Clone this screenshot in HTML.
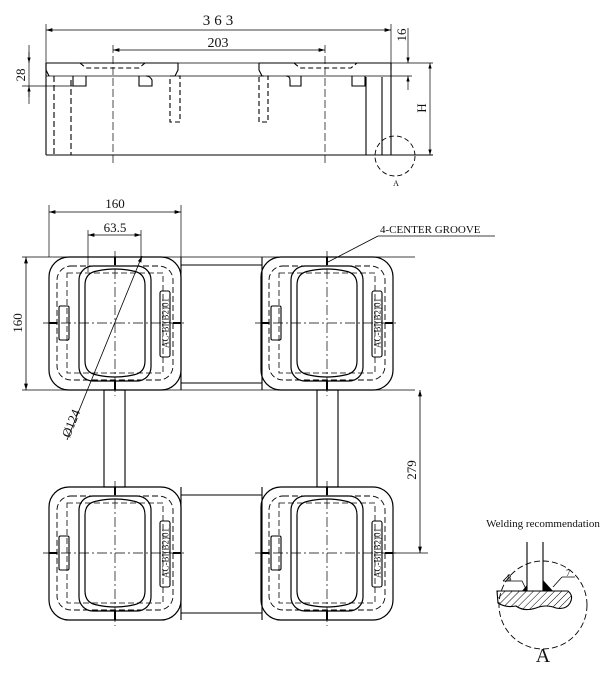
<!DOCTYPE html>
<html><head><meta charset="utf-8"><style>
html,body{margin:0;padding:0;background:#fff;}
svg{display:block;}
text{font-family:"Liberation Serif",serif;fill:#111;}
</style></head><body>
<svg width="614" height="678" viewBox="0 0 614 678" xmlns="http://www.w3.org/2000/svg">
<defs>
<marker id="ar" viewBox="0 0 10 6" refX="10" refY="3" markerWidth="8" markerHeight="5" orient="auto-start-reverse"><path d="M0,0 L10,3 L0,6 z" fill="#000"/></marker>
<pattern id="hatch" width="5" height="5" patternUnits="userSpaceOnUse" patternTransform="rotate(45)"><line x1="0" y1="0" x2="0" y2="5" stroke="#000" stroke-width="1"/></pattern>
<g id="mod">
  <rect x="-66" y="-66" width="132" height="133" rx="20" fill="none" stroke="#000" stroke-width="1.2"/>
  <rect x="-58" y="-57" width="116" height="114" rx="14" fill="none" stroke="#000" stroke-width="0.9" stroke-dasharray="6,3"/>
  <rect x="-48" y="-50" width="96" height="100" fill="none" stroke="#000" stroke-width="0.8" stroke-dasharray="6,3"/>
  <rect x="-36" y="-57" width="72" height="115" rx="14" fill="none" stroke="#000" stroke-width="1.2"/>
  <path d="M-30,-38 Q-30,-50 -18,-52 Q0,-56 18,-52 Q30,-50 30,-38 L30,38 Q30,50 18,52 Q0,56 -18,52 Q-30,50 -30,38 Z" fill="none" stroke="#000" stroke-width="1.2"/>
  <rect x="-56" y="-17" width="10" height="34" rx="1.5" fill="none" stroke="#000" stroke-width="1.1"/>
  <rect x="45" y="-32" width="10" height="66" rx="2" fill="none" stroke="#000" stroke-width="1.1"/>
  <text transform="translate(53.5,0) rotate(-90)" text-anchor="middle" font-size="9">AC-BI(B2)01</text>
  <line x1="0" y1="-72" x2="0" y2="73" stroke="#000" stroke-width="0.7" stroke-dasharray="10,3,2,3"/>
  <line x1="-72" y1="0" x2="72" y2="0" stroke="#000" stroke-width="0.7" stroke-dasharray="10,3,2,3"/>
  <line x1="0" y1="-66" x2="0" y2="-58" stroke="#000" stroke-width="2"/>
  <line x1="0" y1="58" x2="0" y2="67" stroke="#000" stroke-width="2"/>
  <line x1="-66" y1="0" x2="-58" y2="0" stroke="#000" stroke-width="2"/>
  <line x1="58" y1="0" x2="66" y2="0" stroke="#000" stroke-width="2"/>
</g>
</defs>
<g stroke="#000" stroke-width="1.1" fill="none">
<line x1="46" y1="30" x2="391" y2="30" marker-start="url(#ar)" marker-end="url(#ar)" stroke-width="0.8"/>
<line x1="46" y1="24" x2="46" y2="63" stroke-width="0.7"/>
<line x1="391" y1="24" x2="391" y2="63" stroke-width="0.7"/>
<line x1="113" y1="50" x2="325" y2="50" marker-start="url(#ar)" marker-end="url(#ar)" stroke-width="0.8"/>
<line x1="113" y1="45" x2="113" y2="165" stroke-width="0.7" stroke-dasharray="8,3"/>
<line x1="325" y1="45" x2="325" y2="165" stroke-width="0.7" stroke-dasharray="8,3"/>
<line x1="46" y1="63" x2="433" y2="63" stroke-width="0.8"/>
<line x1="46" y1="76" x2="412" y2="76" stroke-width="0.8"/>
<path d="M46,63 L178,63 L178,70 L175,76 M46,63 L46,70 L49,76"/>
<path d="M259,63 L391,63 L391,70 M259,63 L259,70 L262,76"/>
<path d="M80,63 L86,68 L139,68 L145,63" stroke-dasharray="5,3"/>
<path d="M294,63 L300,68 L351,68 L357,63" stroke-dasharray="5,3"/>
<path d="M73,76 L73,86 L86,86 L86,76"/>
<path d="M139,76 L139,86 L152,86 L152,80 Q150,76 146,76"/>
<path d="M286,76 Q290,76 290,80 L290,86 L301,86 L301,76"/>
<path d="M352,76 L352,86 L365,86 L365,76"/>
<line x1="54" y1="76" x2="54" y2="155" stroke-dasharray="6,3"/>
<line x1="71" y1="80" x2="71" y2="155" stroke-dasharray="6,3"/>
<rect x="170" y="76" width="10" height="46" stroke-dasharray="5,3"/>
<rect x="259" y="76" width="9" height="46" stroke-dasharray="5,3"/>
<line x1="46" y1="63" x2="46" y2="155"/>
<line x1="391" y1="63" x2="391" y2="155"/>
<line x1="366" y1="77" x2="366" y2="155"/>
<line x1="382" y1="77" x2="382" y2="155"/>
<line x1="46" y1="155" x2="433" y2="155"/>
<line x1="29" y1="45" x2="29" y2="104" stroke-width="0.7"/>
<line x1="29" y1="52" x2="29" y2="63" marker-end="url(#ar)" stroke-width="0.7"/>
<line x1="29" y1="97" x2="29" y2="86" marker-end="url(#ar)" stroke-width="0.7"/>
<line x1="22" y1="86" x2="86" y2="86" stroke-width="0.7"/>
<line x1="408" y1="28" x2="408" y2="63" marker-end="url(#ar)" stroke-width="0.7"/>
<line x1="408" y1="90" x2="408" y2="76" marker-end="url(#ar)" stroke-width="0.7"/>
<line x1="430" y1="63" x2="430" y2="155" marker-start="url(#ar)" marker-end="url(#ar)" stroke-width="0.7"/>
<circle cx="395" cy="156" r="20" stroke-dasharray="5,3" stroke-width="0.9"/>
<line x1="49" y1="212" x2="181" y2="212" marker-start="url(#ar)" marker-end="url(#ar)" stroke-width="0.8"/>
<line x1="49" y1="205" x2="49" y2="257" stroke-width="0.7"/>
<line x1="181" y1="205" x2="181" y2="257" stroke-width="0.7"/>
<line x1="88" y1="235" x2="141" y2="235" marker-start="url(#ar)" marker-end="url(#ar)" stroke-width="0.8"/>
<line x1="88" y1="230" x2="88" y2="272" stroke-width="0.7"/>
<line x1="141" y1="230" x2="141" y2="260" stroke-width="0.7"/>
<line x1="22" y1="257" x2="415" y2="257" stroke-width="0.8"/>
<line x1="22" y1="390" x2="415" y2="390" stroke-width="0.8"/>
<line x1="26" y1="257" x2="26" y2="390" marker-start="url(#ar)" marker-end="url(#ar)" stroke-width="0.8"/>
<line x1="420" y1="390" x2="420" y2="553" marker-start="url(#ar)" marker-end="url(#ar)" stroke-width="0.8"/>
<line x1="393" y1="553" x2="428" y2="553" stroke-width="0.7"/>
<line x1="142" y1="256" x2="67" y2="440" marker-start="url(#ar)" stroke-width="0.8"/>
<line x1="378" y1="236" x2="495" y2="236" stroke-width="0.8"/>
<line x1="378" y1="236" x2="328" y2="262" stroke-width="0.8"/>
<line x1="181" y1="265" x2="262" y2="265"/>
<line x1="181" y1="383" x2="262" y2="383"/>
<line x1="181" y1="257" x2="181" y2="390"/>
<line x1="262" y1="257" x2="262" y2="390"/>
<line x1="181" y1="495" x2="262" y2="495"/>
<line x1="181" y1="613" x2="262" y2="613"/>
<line x1="181" y1="487" x2="181" y2="620"/>
<line x1="262" y1="487" x2="262" y2="620"/>
<rect x="104" y="390" width="21" height="97"/>
<rect x="317" y="390" width="21" height="97"/>
<circle cx="543" cy="605" r="44" stroke-dasharray="6,3" stroke-width="0.9"/>
<line x1="527" y1="542" x2="527" y2="591"/>
<line x1="543" y1="542" x2="543" y2="591"/>
<path d="M497,591 L568,591 Q574,596 570,603 Q566,610 556,608 Q546,604 536,608 Q524,612 516,606 Q506,608 498,603 Z" fill="url(#hatch)"/>
<path d="M503,581 L522,581 L527,591 M503,581 L509,575 L509,581" stroke-width="0.8"/>
<path d="M562,577 L575,577 M562,577 L553,587" stroke-width="0.8"/>
</g>
<path d="M522,591 L527,585 L527,591 Z" fill="#000"/>
<path d="M543,580 L553,591 L543,591 Z" fill="#000"/>
<use href="#mod" x="115" y="323"/>
<use href="#mod" x="327" y="323"/>
<use href="#mod" x="115" y="553"/>
<use href="#mod" x="327" y="553"/>
<text x="220" y="25" text-anchor="middle" font-size="15" font-family="Liberation Sans" letter-spacing="4">363</text>
<text x="218" y="47" text-anchor="middle" font-size="14" font-family="Liberation Sans">203</text>
<text transform="translate(25,75) rotate(-90)" text-anchor="middle" font-size="13">28</text>
<text transform="translate(406,35) rotate(-90)" text-anchor="middle" font-size="13">16</text>
<text transform="translate(426,108) rotate(-90)" text-anchor="middle" font-size="13">H</text>
<text x="396" y="186" text-anchor="middle" font-size="8">A</text>
<text x="115" y="208" text-anchor="middle" font-size="13">160</text>
<text x="115" y="232" text-anchor="middle" font-size="13">63.5</text>
<text transform="translate(22,323) rotate(-90)" text-anchor="middle" font-size="13">160</text>
<text transform="translate(75,425) rotate(-68)" text-anchor="middle" font-size="13">Ø124</text>
<text transform="translate(416,470) rotate(-90)" text-anchor="middle" font-size="13">279</text>
<text x="380" y="233" font-size="11">4-CENTER GROOVE</text>
<text x="543" y="527" text-anchor="middle" font-size="11">Welding recommendation</text>
<text x="507" y="581" font-size="9">3</text>
<text x="566" y="576" font-size="9">7</text>
<text x="543" y="662" text-anchor="middle" font-size="20">A</text>
</svg>
</body></html>
